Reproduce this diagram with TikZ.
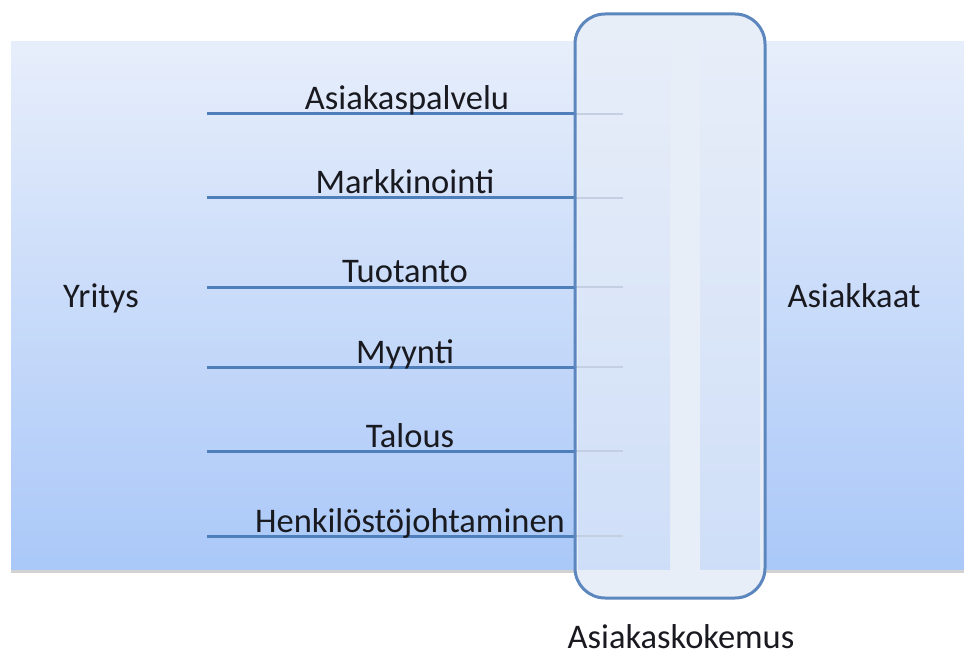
\documentclass[tikz,border=0pt]{standalone}
\usepackage{fontspec}
\setmainfont{Carlito}
\definecolor{bandtop}{RGB}{231,238,251}
\definecolor{bandbot}{RGB}{170,200,248}
\definecolor{boxline}{RGB}{92,134,190}
\definecolor{boxfill}{RGB}{232,238,248}
\definecolor{rowline}{RGB}{79,127,186}
\definecolor{fadeline}{RGB}{196,208,226}
\definecolor{txt}{RGB}{25,25,32}

\begin{document}
\begin{tikzpicture}[x=1pt,y=-1pt,
  lbl/.style={font=\fontsize{34.5}{40}\selectfont,text=txt,inner sep=0pt,anchor=base},
  rowrule/.style={rowline,line width=3pt},
  faderule/.style={fadeline,line width=2.5pt},
  column/.style={top color=bandtop,bottom color=bandbot,opacity=0.4}]
\useasboundingbox (0,0) rectangle (964,655);

% band
\fill[black!35,opacity=0.5] (11,569) rectangle (964,573);
\shade[top color=bandtop,bottom color=bandbot] (11,42) rectangle (964,569);

% experience box
\node (kokemus) [fill=boxfill,rounded corners=30pt,minimum width=190pt,minimum height=584pt,inner sep=0pt] at (670,306) {};
\shade[column] (578,42) rectangle (670,569);
\shade[column] (700,42) rectangle (760,569);

% rows
\coordinate (l1) at (207,114); \coordinate (r1) at (623,114);
\coordinate (l2) at (207,198); \coordinate (r2) at (623,198);
\coordinate (l3) at (207,287); \coordinate (r3) at (623,287);
\coordinate (l4) at (207,367); \coordinate (r4) at (623,367);
\coordinate (l5) at (207,451); \coordinate (r5) at (623,451);
\coordinate (l6) at (207,536); \coordinate (r6) at (623,536);

\draw[rowrule] (l1) -- (l1 -| kokemus.west);  \draw[faderule] (l1 -| kokemus.west) -- (r1);
\draw[rowrule] (l2) -- (l2 -| kokemus.west);  \draw[faderule] (l2 -| kokemus.west) -- (r2);
\draw[rowrule] (l3) -- (l3 -| kokemus.west);  \draw[faderule] (l3 -| kokemus.west) -- (r3);
\draw[rowrule] (l4) -- (l4 -| kokemus.west);  \draw[faderule] (l4 -| kokemus.west) -- (r4);
\draw[rowrule] (l5) -- (l5 -| kokemus.west);  \draw[faderule] (l5 -| kokemus.west) -- (r5);
\draw[rowrule] (l6) -- (l6 -| kokemus.west);  \draw[faderule] (l6 -| kokemus.west) -- (r6);

\node[draw=boxline,line width=3pt,rounded corners=30pt,minimum width=190pt,minimum height=584pt,inner sep=0pt] (kehys) at (kokemus) {};

\node[lbl] (palvelu)    at (407,110) {Asiakaspalvelu};
\node[lbl] (markkinat)  at (405,194) {Markkinointi};
\node[lbl] (tuotanto)   at (405,283) {Tuotanto};
\node[lbl] (myynti)     at (405,363) {Myynti};
\node[lbl] (talous)     at (410,447) {Talous};
\node[lbl] (henkilosto) at (410,532) {Henkilöstöjohtaminen};

\node[lbl] (yritys)     at (101,307) {Yritys};
\node[lbl] (asiakkaat)  at (854,307) {Asiakkaat};
\node[lbl] (kokemusteksti) at (681,648) {Asiakaskokemus};
\end{tikzpicture}
\end{document}
